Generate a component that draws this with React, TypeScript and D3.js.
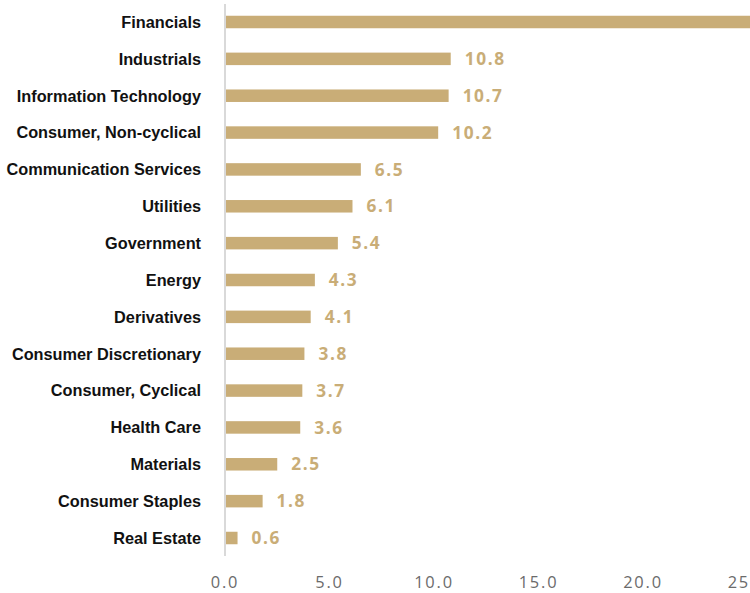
import React from "react";
import * as d3 from "d3";

const categories = [
  "Financials",
  "Industrials",
  "Information Technology",
  "Consumer, Non-cyclical",
  "Communication Services",
  "Utilities",
  "Government",
  "Energy",
  "Derivatives",
  "Consumer Discretionary",
  "Consumer, Cyclical",
  "Health Care",
  "Materials",
  "Consumer Staples",
  "Real Estate",
];
const values = [27.5, 10.8, 10.7, 10.2, 6.5, 6.1, 5.4, 4.3, 4.1, 3.8, 3.7, 3.6, 2.5, 1.8, 0.6];
const ticks = [0, 5, 10, 15, 20, 25, 30];

const W = 750;
const H = 593;
const x0 = 225;
const pxPerUnit = 20.9;
const barColor = "#c9ad77";
const barH = 12.5;

export default function App() {
  const x = d3.scaleLinear().domain([0, 30]).range([x0, x0 + 30 * pxPerUnit]);
  const y = d3.scalePoint<string>().domain(categories).range([22, 538]);
  return (
    <svg width={W} height={H} style={{ position: "absolute", left: 0, top: 0, display: "block" }}>
      <rect width={W} height={H} fill="#ffffff" />
      {categories.map((c, i) => {
        const cy = y(c)!;
        return (
          <g key={c}>
            <rect x={x(0)} y={cy - barH / 2} width={x(values[i]) - x(0)} height={barH} fill={barColor} />
            <text
              x={201}
              y={cy + 5.8}
              textAnchor="end"
              fontFamily="'Liberation Sans', Arial, sans-serif"
              fontWeight="bold"
              fontSize={16.3}
              fill="#111"
            >
              {c}
            </text>
            <text
              x={x(values[i]) + 14}
              y={cy + 6.2}
              fontFamily="'Open Sans', 'Liberation Sans', sans-serif"
              fontWeight="bold"
              fontSize={17.3}
              letterSpacing={1.6}
              fill={barColor}
            >
              {values[i].toFixed(1)}
            </text>
          </g>
        );
      })}
      <line x1={x(0)} x2={x(0)} y1={4} y2={556} stroke="#d9d9d9" strokeWidth={2} />
      {ticks.map((t) => (
        <text
          key={t}
          x={x(t)}
          y={588.3}
          textAnchor="middle"
          fontFamily="'Open Sans', 'Liberation Sans', sans-serif"
          fontSize={16.4}
          letterSpacing={1.8}
          fill="#6b6b6b"
        >
          {t.toFixed(1)}
        </text>
      ))}
    </svg>
  );
}
